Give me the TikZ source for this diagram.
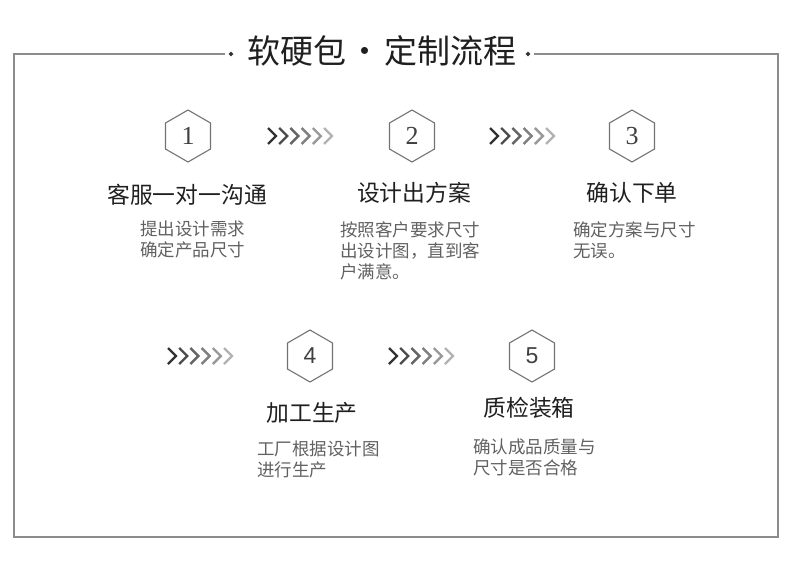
\documentclass[tikz,border=0pt]{standalone}
\usepackage{fontspec}
\setmainfont{Noto Sans CJK SC}
\newfontfamily\digitserif{Liberation Serif}
\newfontfamily\digitsans{Liberation Sans}
\usetikzlibrary{calc,shapes.geometric}

\begin{document}
\begin{tikzpicture}[
                x=1pt, y=-1pt,
                frame/.style={line width=1.8pt, draw=black!45},
                knot/.style={diamond, fill=black!80, inner sep=0pt, minimum size=5pt},
                head/.style={font=\fontsize{33pt}{33pt}\selectfont, text=black!88, inner sep=0pt},
                hexa/.style={regular polygon, regular polygon sides=6, shape border rotate=30,
                    draw=black!55, line width=1.1pt, minimum size=52pt, inner sep=0pt,
                    text=black!75, font=\digitserif\fontsize{26pt}{26pt}\selectfont},
                hexsans/.style={font=\digitsans\fontsize{23pt}{23pt}\selectfont},
                chev/.style={line width=2.4pt, line join=miter},
                steptitle/.style={font=\fontsize{22.8pt}{22.8pt}\selectfont, text=black!88, inner sep=0pt},
                note/.style={font=\fontsize{17.5pt}{21pt}\selectfont, text=black!62,
                    align=left, anchor=north west, inner sep=0pt},
            ]
                \useasboundingbox (0,0) rectangle (790,581);

                %% outer frame, open at the top for the title
                \node[head] (title) at (382,51) {软硬包\hspace{2.5pt}・\hspace{2.5pt}定制流程};
                \node[knot] (kl) at (231,54) {};
                \node[knot] (kr) at (528,54) {};
                \draw[frame] (kl.west) ++(-3,0) -- (14,54) -- (14,537) -- (778,537) -- (778,54) -- ($(kr.east)+(3,0)$);

                %% the five steps
                \node[hexa] (s1) at (188,136) {1};
                \node[hexa] (s2) at (412,136) {2};
                \node[hexa] (s3) at (632,136) {3};
                \node[hexa, hexsans] (s4) at (310,356) {4};
                \node[hexa, hexsans] (s5) at (532,356) {5};

                \node[steptitle] (t1) at (187,195) {客服一对一沟通};
                \node[steptitle] (t2) at (414,193) {设计出方案};
                \node[steptitle] (t3) at (632,193) {确认下单};
                \node[steptitle] (t4) at (312,413) {加工生产};
                \node[steptitle] (t5) at (529,408) {质检装箱};

                \node[note] (d1) at (140,221) {提出设计需求\\确定产品尺寸};
                \node[note] (d2) at (340,221) {按照客户要求尺寸\\出设计图，直到客\\户满意。};
                \node[note] (d3) at (573,221) {确定方案与尺寸\\无误。};
                \node[note] (d4) at (257,441) {工厂根据设计图\\进行生产};
                \node[note] (d5) at (473,439) {确认成品质量与\\尺寸是否合格};

                %% chevrons between the steps, fading to the right
                \foreach \a/\b in {s1/s2, s2/s3, s4/s5}
                    \coordinate (m-\a) at ($(\a)!.5!(\b)$);
                \coordinate (m-s0) at ($(s4)+(-110,0)$);
                \foreach \m in {m-s1, m-s2, m-s4, m-s0}{
                    \foreach \i in {0,...,5}{
                        \pgfmathtruncatemacro\shade{80-10*\i}
                        \draw[chev, draw=black!\shade] ($(\m)+(11.2*\i-32,-8)$)
                            -- ++(8,8) -- ++(-8,8);
                    }
                }
            \end{tikzpicture}
\end{document}
